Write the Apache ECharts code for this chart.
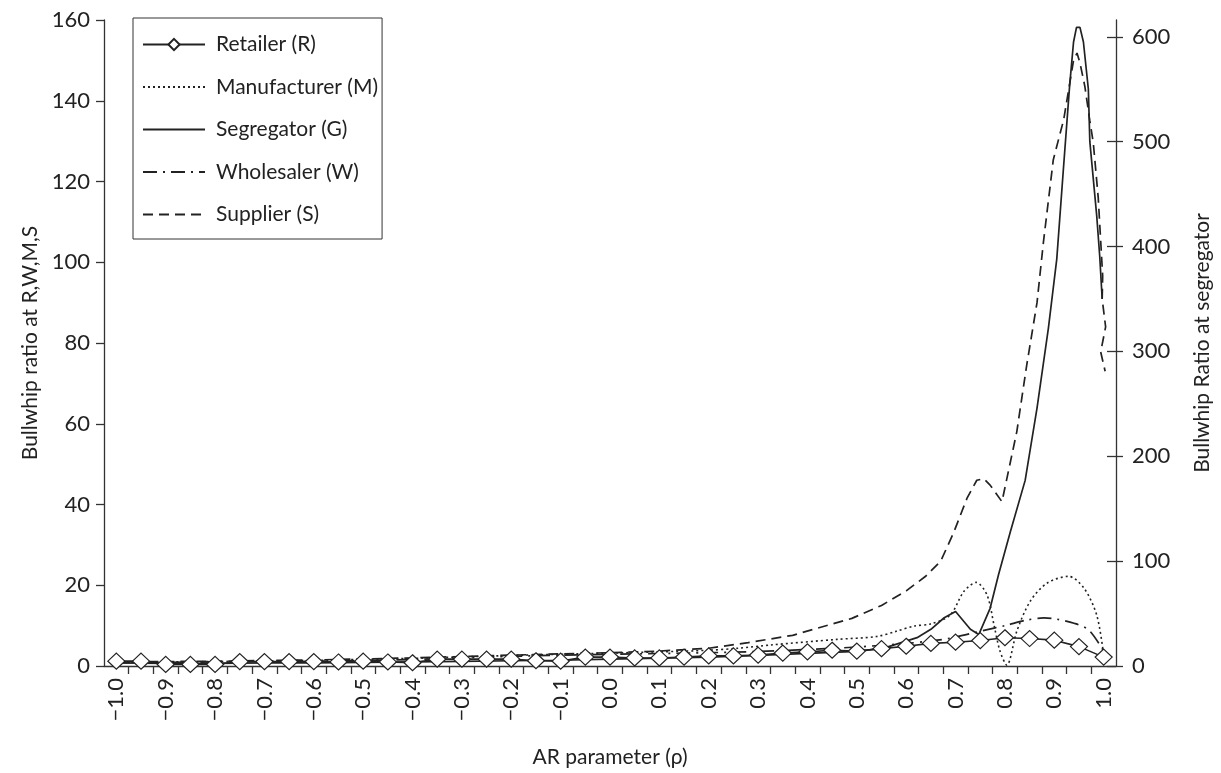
<!DOCTYPE html>
<html>
<head>
<meta charset="utf-8">
<script src="https://cdn.jsdelivr.net/npm/echarts@6/dist/echarts.min.js"></script>
<style>
  html, body { margin: 0; padding: 0; background: #fff; }
  #chart { width: 1221px; height: 773px; }
</style>
</head>
<body>
<div id="chart"></div>
<script>
// AR parameter grid (retailer points)
const rhoGrid = [-1.0, -0.95, -0.9, -0.85, -0.8, -0.75, -0.7, -0.65, -0.6, -0.55, -0.5,
  -0.45, -0.4, -0.35, -0.3, -0.25, -0.2, -0.15, -0.1, -0.05, 0.0,
  0.05, 0.1, 0.15, 0.2, 0.25, 0.3, 0.35, 0.4, 0.45, 0.5,
  0.55, 0.6, 0.65, 0.7, 0.75, 0.8, 0.85, 0.9, 0.95, 1.0]
const xLabelValues = [-1.0, -0.9, -0.8, -0.7, -0.6, -0.5, -0.4, -0.3, -0.2, -0.1, 0.0,
  0.1, 0.2, 0.3, 0.4, 0.5, 0.6, 0.7, 0.8, 0.9, 1.0]
const rightTicks = [0, 100, 200, 300, 400, 500, 600]

const retailer = [1.2, 1.2, 0.4, 0.4, 0.4, 1.1, 1.1, 1.1, 1.1, 1.0, 1.2,
  1.0, 0.8, 1.7, 1.7, 1.7, 1.7, 1.3, 1.2, 2.2, 2.2,
  2.0, 2.0, 2.2, 2.5, 2.5, 2.7, 3.2, 3.5, 3.9, 3.7,
  4.3, 4.9, 5.6, 5.9, 6.3, 7.0, 6.8, 6.4, 4.8, 2.2]

const manRho = [-1.0, -0.8, -0.6, -0.4, -0.2, 0.0, 0.1, 0.2, 0.26, 0.325, 0.46, 0.54, 0.58,
  0.616, 0.649, 0.689, 0.717, 0.742, 0.764, 0.778, 0.79, 0.804, 0.824, 0.851, 0.885,
  0.929, 0.96, 0.986, 1.0]
const manufacturer = [0.9, 1.1, 1.4, 1.9, 2.6, 3.2, 3.5, 3.9, 4.4, 5.2, 6.6, 7.3, 8.6,
  9.9, 10.4, 12.6, 18.5, 20.7, 17.5, 10.1, 3.7, 0.2, 8.6, 16, 20.5,
  22.2, 19.3, 12.6, 2.7]

const segRho = [-1.0, -0.9, -0.8, -0.7, -0.6, -0.5, -0.4, -0.3, -0.2, -0.1,
  0.0, 0.1, 0.2, 0.3, 0.4, 0.5, 0.555, 0.622, 0.65, 0.677, 0.70,
  0.73, 0.747, 0.77, 0.787, 0.811, 0.841, 0.865, 0.888, 0.905, 0.918,
  0.931, 0.939, 0.945, 0.952, 0.959, 0.969, 0.972, 0.986, 0.992, 0.997]
const segregator = [3, 2.5, 2.5, 3, 3, 3.5, 4, 4.5, 5, 5.5,
  6.5, 7.5, 8.5, 10, 12, 14, 17, 27, 35, 46, 52,
  35, 30, 55, 87, 128, 177, 246, 322, 388, 471,
  553, 595, 609, 609, 595, 550, 500, 429, 391, 350]

const whoRho = [-1.0, -0.8, -0.6, -0.4, -0.2, 0.0, 0.2, 0.3, 0.4, 0.5, 0.6, 0.65, 0.69,
  0.76, 0.8, 0.845, 0.879, 0.905, 0.94, 0.97, 1.0]
const wholesaler = [0.8, 1.0, 1.2, 1.6, 2.4, 2.9, 3.3, 3.6, 4.1, 4.7, 5.6, 6.2, 6.9,
  8.9, 10.0, 11.4, 11.9, 11.6, 10.6, 8.9, 3.7]

const supRho = [-1.0, -0.8, -0.6, -0.4, -0.2, 0.0, 0.1, 0.2, 0.28, 0.37, 0.49, 0.55, 0.6,
  0.64, 0.67, 0.696, 0.723, 0.743, 0.757, 0.77, 0.794, 0.824, 0.844, 0.865, 0.878,
  0.898, 0.919, 0.939, 0.946, 0.952, 0.962, 0.972, 0.979, 0.989, 0.998, 0.997,
  1.004, 0.994, 1.003]
const supplier = [1.0, 1.2, 1.5, 2.0, 2.7, 3.3, 3.7, 4.4, 5.8, 7.6, 11.8, 15, 18.6,
  22.3, 26, 33, 41.5, 46, 46.4, 44.8, 40.7, 58, 74.4, 90, 105,
  125.4, 135.3, 150, 151.8, 149.4, 143.5, 135, 129.6, 116, 96.6, 90.9,
  84, 77.8, 73]

const pairs = (xs, ys) => xs.map((x, i) => [x, ys[i]])
// tick marks sit between the retailer points, like a category axis
const tickBounds = rhoGrid.slice(1).map((r, i) => (r + rhoGrid[i]) / 2)

const FONT = 'Lato, "Open Sans", sans-serif'
const INK = '#222'
const axisLineStyle = { color: '#333', width: 1.3 }

const fmtRho = v => {
  const r = Math.round(v * 10) / 10
  if (r === 0) return '0.0'
  return r < 0 ? '\u2212' + Math.abs(r).toFixed(1) : r.toFixed(1)
}

const noMark = { opacity: 0 }

const chart = echarts.init(document.getElementById('chart'))
chart.setOption({
  animation: false,
  backgroundColor: '#fff',
  grid: { left: 104, right: 103, top: 20, bottom: 105 },
  legend: {
    orient: 'vertical',
    left: 133,
    top: 18,
    itemWidth: 62,
    itemHeight: 14,
    itemGap: 21.5,
    padding: [16, 4, 14, 9],
    borderColor: '#333',
    borderWidth: 1,
    data: [
      { name: 'Retailer (R)' },
      { name: 'Manufacturer (M)', itemStyle: noMark },
      { name: 'Segregator (G)', itemStyle: noMark },
      { name: 'Wholesaler (W)', itemStyle: noMark },
      { name: 'Supplier (S)', itemStyle: noMark }
    ],
    textStyle: { fontFamily: FONT, fontSize: 21, color: INK, padding: [0, 0, 0, 6] }
  },
  xAxis: {
    type: 'value',
    min: -1.025,
    max: 1.025,
    name: 'AR parameter (\u03C1)',
    nameLocation: 'middle',
    nameGap: 81,
    nameTextStyle: { fontFamily: FONT, fontSize: 21, color: INK },
    axisLine: { onZero: false, lineStyle: axisLineStyle },
    axisTick: { customValues: tickBounds, length: 8, lineStyle: axisLineStyle },
    axisLabel: {
      customValues: xLabelValues,
      rotate: 90,
      margin: 12,
      fontFamily: FONT,
      fontSize: 22,
      color: INK,
      formatter: fmtRho
    },
    splitLine: { show: false }
  },
  yAxis: [
    {
      type: 'value',
      position: 'left',
      min: 0,
      max: 160,
      interval: 20,
      name: 'Bullwhip ratio at R,W,M,S',
      nameLocation: 'middle',
      nameGap: 62,
      nameRotate: 90,
      nameTextStyle: { fontFamily: FONT, fontSize: 21, color: INK },
      axisLine: { show: true, onZero: false, lineStyle: axisLineStyle },
      axisTick: { show: true, length: 8, lineStyle: axisLineStyle },
      axisLabel: { margin: 14, fontFamily: FONT, fontSize: 22, color: INK },
      splitLine: { show: false }
    },
    {
      type: 'value',
      position: 'right',
      min: 0,
      max: 616,
      name: 'Bullwhip Ratio at segregator',
      nameLocation: 'middle',
      nameGap: 76,
      nameRotate: 90,
      nameTextStyle: { fontFamily: FONT, fontSize: 21, color: INK },
      axisLine: { show: true, onZero: false, lineStyle: axisLineStyle },
      axisTick: { show: true, inside: true, length: 9, customValues: rightTicks, lineStyle: axisLineStyle },
      axisLabel: { customValues: rightTicks, margin: 16, fontFamily: FONT, fontSize: 22, color: INK },
      splitLine: { show: false }
    },
    {
      // outer half of the crossing ticks on the right axis
      type: 'value',
      position: 'right',
      offset: 0,
      min: 0,
      max: 616,
      axisLine: { show: false, onZero: false },
      axisTick: { show: true, length: 7, customValues: rightTicks, lineStyle: axisLineStyle },
      axisLabel: { show: false },
      splitLine: { show: false }
    }
  ],
  series: [
    {
      name: 'Manufacturer (M)',
      type: 'line',
      data: pairs(manRho, manufacturer),
      smooth: 0.3,
      symbol: 'none',
      lineStyle: { color: INK, width: 1.6, type: [2, 3] },
      itemStyle: { color: INK }
    },
    {
      name: 'Segregator (G)',
      type: 'line',
      yAxisIndex: 1,
      data: pairs(segRho, segregator),
      symbol: 'none',
      lineStyle: { color: INK, width: 1.7 },
      itemStyle: { color: INK }
    },
    {
      name: 'Wholesaler (W)',
      type: 'line',
      data: pairs(whoRho, wholesaler),
      smooth: 0.3,
      symbol: 'none',
      lineStyle: { color: INK, width: 1.7, type: [14, 6, 2, 6] },
      itemStyle: { color: INK }
    },
    {
      name: 'Supplier (S)',
      type: 'line',
      data: pairs(supRho, supplier),
      symbol: 'none',
      lineStyle: { color: INK, width: 1.7, type: [10, 6] },
      itemStyle: { color: INK }
    },
    {
      name: 'Retailer (R)',
      type: 'line',
      z: 5,
      data: pairs(rhoGrid, retailer),
      symbol: 'diamond',
      symbolSize: [17, 16],
      lineStyle: { color: INK, width: 1.6 },
      itemStyle: { color: '#fff', borderColor: INK, borderWidth: 1.2 }
    }
  ]
})
</script>
</body>
</html>
